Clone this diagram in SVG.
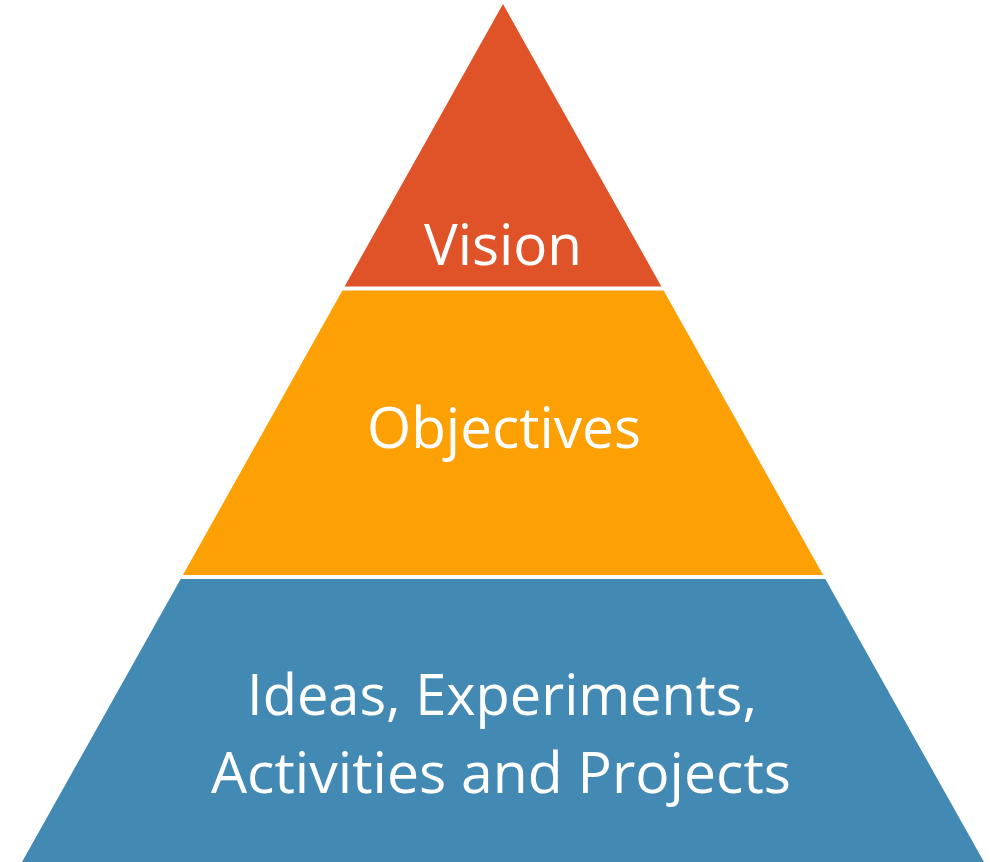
<svg xmlns="http://www.w3.org/2000/svg" width="990" height="862" viewBox="0 0 990 862">
<style>
.lbl{font-family:"Open Sans","Noto Sans","Liberation Sans",sans-serif;font-size:56px;fill:#ffffff;text-anchor:middle}
</style>
<rect width="990" height="862" fill="#ffffff"/>
<g id="vision">
<polygon points="503,4 661.4,286.5 344.6,286.5" fill="#E05328"/>
<text class="lbl" x="503" y="265" textLength="158" lengthAdjust="spacingAndGlyphs">Vision</text>
</g>
<g id="objectives">
<polygon points="342.4,290.5 663.6,290.5 823.1,575 182.9,575" fill="#FDA003"/>
<text class="lbl" x="504" y="448" textLength="274" lengthAdjust="spacingAndGlyphs">Objectives</text>
</g>
<g id="ideas">
<polygon points="180.7,579 825.3,579 984,862 22,862" fill="#4289B4"/>
<text class="lbl" x="502" y="715" textLength="510" lengthAdjust="spacingAndGlyphs">Ideas, Experiments,</text>
<text class="lbl" x="501" y="793" textLength="580" lengthAdjust="spacingAndGlyphs">Activities and Projects</text>
</g>
<g id="connectors"></g>
</svg>
